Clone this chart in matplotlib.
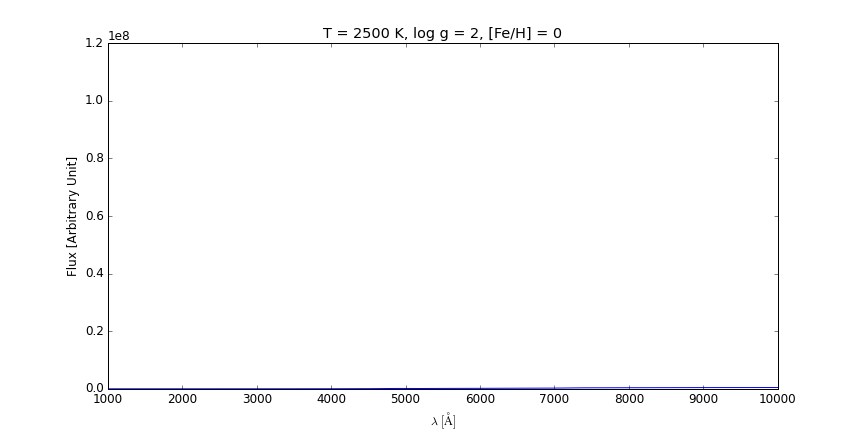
import numpy as np
import matplotlib.pyplot as plt

plt.style.use('classic')

# model spectrum (wavelength in Angstrom, flux in arbitrary units)
wavelength = [1000, 1500, 2000, 2500, 3000, 3500, 4000, 4500, 4900, 5200, 5500,
              6000, 6500, 7000, 7400, 7800, 8200, 8600, 9000, 9500, 10000]
flux = [0.0, 0.0, 1.0e2, 5.0e2, 2.0e3, 8.0e3, 2.0e4, 5.0e4, 1.2e5, 1.0e5, 1.3e5,
        1.6e5, 2.0e5, 2.4e5, 3.4e5, 3.6e5, 3.8e5, 4.0e5, 4.2e5, 4.3e5, 4.4e5]

fig = plt.figure(figsize=(12, 6), dpi=72)
ax = fig.add_subplot(111)
ax.plot(wavelength, flux, 'b-')

ax.set_xlim(1000, 10000)
ax.set_ylim(0, 1.2e8)
ax.set_title('T = 2500 K, log g = 2, [Fe/H] = 0')
ax.set_xlabel(r'$\lambda\ \mathrm{[\AA]}$', math_fontfamily='cm')
ax.set_ylabel('Flux [Arbitrary Unit]')

fig.savefig('out.png', dpi=72)
